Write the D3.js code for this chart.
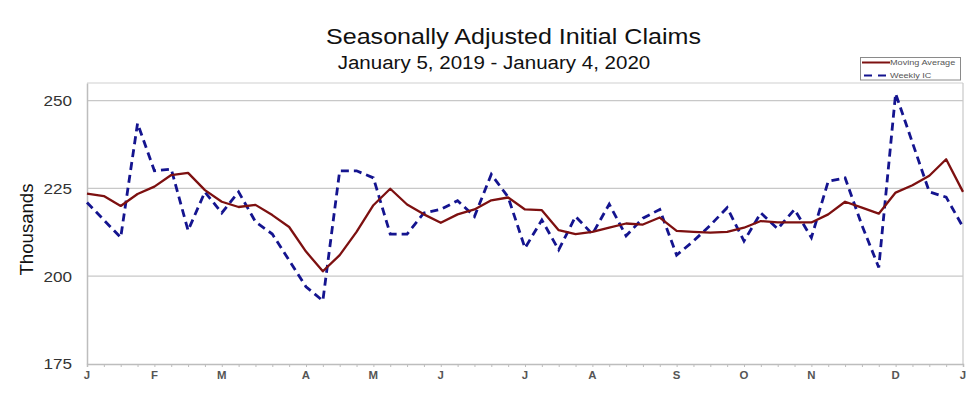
<!DOCTYPE html>
<html>
<head>
<meta charset="utf-8">
<script src="https://cdn.jsdelivr.net/npm/d3@7"></script>
<style>
  html, body { margin: 0; padding: 0; background: #fff; }
  svg { display: block; font-family: "Liberation Sans", Arial, sans-serif; }
</style>
</head>
<body>
<svg id="chart" width="977" height="398"></svg>
<script>
// ---- data ----
const titleText = "Seasonally Adjusted Initial Claims";
const subtitleText = "January 5, 2019 - January 4, 2020";
const yAxisLabel = "Thousands";
const startWeek = "2019-01-05";
const endWeek = "2020-01-04";
const monthLabels = ["J","F","M","A","M","J","J","A","S","O","N","D","J"];
const yTicks = [175, 200, 225, 250];
const seriesNames = ["Moving Average", "Weekly IC"];

const movingAverage = [223.5, 222.8, 220, 223.4, 225.5, 228.8, 229.4, 224.5, 221.2, 219.7,
  220.3, 217.4, 214, 207, 201.4, 206, 212.6, 220.2, 224.9, 220.4,
  217.6, 215.2, 217.6, 219, 221.6, 222.4, 219, 218.8, 213.1, 212,
  212.6, 213.8, 215, 214.7, 216.7, 212.9, 212.6, 212.4, 212.6, 213.8,
  215.7, 215.3, 215.3, 215.3, 217.6, 221.2, 219.5, 217.8, 223.8, 225.9,
  228.6, 233.3, 224];

const weeklyIC = [221, 216, 211, 243.5, 230, 230.5, 213, 224, 218, 224,
  215.5, 212, 204.5, 197, 193, 230, 230, 228, 212, 212,
  218, 219, 221.5, 217, 229, 222.5, 208, 216, 207.5, 217,
  212, 220.5, 211.5, 216.5, 219, 206, 210, 214.5, 219.5, 210,
  218, 213.5, 219, 211, 227, 228, 214.5, 202.5, 252, 238,
  224, 222.5, 214];

// ---- setup ----
const parse = d3.utcParse("%Y-%m-%d");
const t0 = parse(startWeek), t1 = parse(endWeek);
const weeks = d3.utcWeek.every(1).range(t0, d3.utcDay.offset(t1, 1)).map(d => d3.utcDay.offset(d, 6));
// weeks are Saturdays (week ending)
const weekDates = d3.utcSaturday.range(t0, d3.utcDay.offset(t1, 1));

const svg = d3.select("#chart");
const stretch = 1.14;
const plot = { left: 87, right: 963, top: 83, bottom: 364 };

const x = d3.scaleUtc().domain([t0, t1]).range([plot.left, plot.right]);
const y = d3.scaleLinear().domain([175, 255]).range([plot.bottom, plot.top]);

function fitText(sel) {
  sel.each(function () {
    const w = this.getComputedTextLength();
    d3.select(this).attr("textLength", w * stretch).attr("lengthAdjust", "spacingAndGlyphs");
  });
  return sel;
}

// title
svg.append("text").attr("x", 513.5).attr("y", 44).attr("text-anchor", "middle")
  .attr("font-size", 22).attr("fill", "#111").text(titleText).call(fitText);
svg.append("text").attr("x", 494).attr("y", 68.5).attr("text-anchor", "middle")
  .attr("font-size", 18).attr("fill", "#111").text(subtitleText).call(fitText);

// gridlines
svg.append("g").selectAll("line").data(yTicks.filter(v => v > 175)).join("line")
  .attr("x1", plot.left).attr("x2", plot.right)
  .attr("y1", d => y(d)).attr("y2", d => y(d))
  .attr("stroke", "#c8c8c8").attr("stroke-width", 1.2);
// top border and right border
svg.append("line").attr("x1", plot.left).attr("x2", plot.right).attr("y1", plot.top).attr("y2", plot.top)
  .attr("stroke", "#d0d0d0").attr("stroke-width", 1.2);
svg.append("line").attr("x1", plot.right).attr("x2", plot.right).attr("y1", plot.top).attr("y2", plot.bottom)
  .attr("stroke", "#c8c8c8").attr("stroke-width", 1.2);

// y axis
const yAxis = d3.axisLeft(y).tickValues(yTicks).tickSize(0).tickPadding(15);
const gy = svg.append("g").attr("transform", `translate(${plot.left},0)`).call(yAxis);
gy.select(".domain").attr("stroke", "#bdbdbd").attr("stroke-width", 1.5);
gy.selectAll("text").attr("font-size", 15).attr("fill", "#333")
  .attr("font-family", "'Liberation Sans', Arial, sans-serif").call(fitText);

svg.append("text").attr("transform", `translate(33,${(plot.top + plot.bottom) / 2 + 6}) rotate(-90)`)
  .attr("text-anchor", "middle").attr("font-size", 18.6).attr("fill", "#111").text(yAxisLabel);

// x axis with weekly ticks
const xAxis = d3.axisBottom(x).tickValues(weekDates).tickSize(3).tickFormat("");
const gx = svg.append("g").attr("transform", `translate(0,${plot.bottom})`).call(xAxis);
gx.select(".domain").attr("stroke", "#bdbdbd").attr("stroke-width", 1.5);
gx.selectAll(".tick line").attr("stroke", "#bdbdbd");

// month labels at first week-ending of each month
const monthStarts = weekDates.filter((d, i) => i === 0 || d.getUTCMonth() !== weekDates[i - 1].getUTCMonth());
svg.append("g").selectAll("text").data(monthStarts).join("text")
  .attr("x", d => x(d)).attr("y", 379).attr("text-anchor", "middle")
  .attr("font-size", 10).attr("font-weight", "bold").attr("fill", "#555")
  .text((d, i) => monthLabels[i]).call(fitText);

// lines
const maData = weekDates.map((d, i) => ({ date: d, v: movingAverage[i] }));
const icData = weekDates.map((d, i) => ({ date: d, v: weeklyIC[i] }));
const line = d3.line().x(d => x(d.date)).y(d => y(d.v));

svg.append("path").datum(icData).attr("d", line).attr("fill", "none")
  .attr("stroke", "#14148f").attr("stroke-width", 2.8).attr("stroke-dasharray", "8,5");
svg.append("path").datum(maData).attr("d", line).attr("fill", "none")
  .attr("stroke", "#7d1010").attr("stroke-width", 2.3).attr("stroke-linejoin", "round");

// legend
const lg = svg.append("g");
lg.append("rect").attr("x", 860.5).attr("y", 57.5).attr("width", 100).attr("height", 22.5)
  .attr("fill", "#fff").attr("stroke", "#8a8a8a").attr("stroke-width", 1);
lg.append("line").attr("x1", 862).attr("x2", 890).attr("y1", 62.5).attr("y2", 62.5)
  .attr("stroke", "#7d1010").attr("stroke-width", 2);
lg.append("line").attr("x1", 864).attr("x2", 890).attr("y1", 75.5).attr("y2", 75.5)
  .attr("stroke", "#14148f").attr("stroke-width", 2).attr("stroke-dasharray", "8,6");
lg.selectAll("text.lt").data(seriesNames).join("text").attr("class", "lt")
  .attr("x", 890).attr("y", (d, i) => 65.2 + i * 13).attr("font-size", 8).attr("fill", "#555")
  .text(d => d).call(fitText);
</script>
</body>
</html>
